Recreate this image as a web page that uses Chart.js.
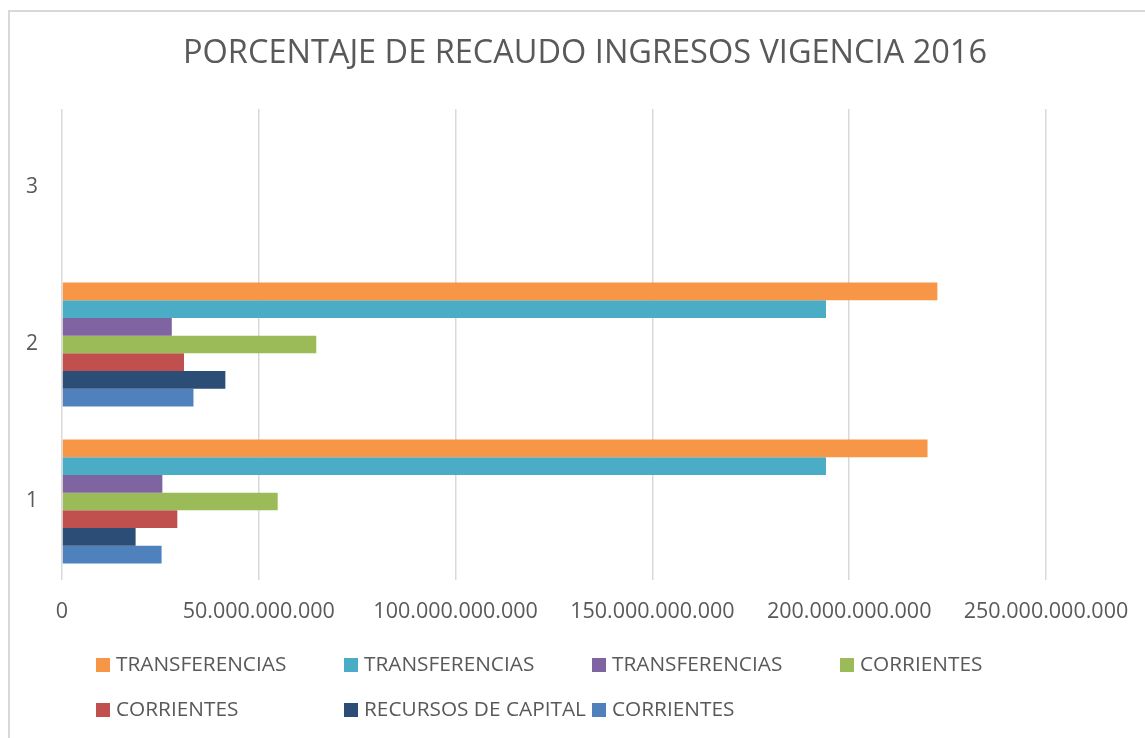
<!DOCTYPE html>
<html>
<head>
<meta charset="utf-8">
<script src="https://cdn.jsdelivr.net/npm/chart.js@4"></script>
<style>
  html, body { margin: 0; padding: 0; background: #ffffff; overflow: hidden; }
  #frame { position: absolute; left: 8px; top: 10px; width: 2000px; height: 2000px; border: 2px solid #d9d9d9; box-sizing: border-box; }
  #wrap { position: absolute; left: 0; top: 0; width: 1145px; height: 738px; }
</style>
</head>
<body>
<div id="frame"></div>
<div id="wrap"><canvas id="c" width="1145" height="738"></canvas></div>
<script>
// Categories (top to bottom as shown)
const categories = ['3', '2', '1'];

// Series (legend order), values for categories 3, 2, 1
const seriesNames = ['TRANSFERENCIAS', 'TRANSFERENCIAS', 'TRANSFERENCIAS', 'CORRIENTES', 'CORRIENTES', 'RECURSOS DE CAPITAL', 'CORRIENTES'];
const transferencias1 = [null, 222.4e9, 219.9e9];
const transferencias2 = [null, 194.1e9, 194.1e9];
const transferencias3 = [null, 27.9e9, 25.5e9];
const corrientes1     = [null, 64.6e9, 54.8e9];
const corrientes2     = [null, 31.0e9, 29.3e9];
const recursosCapital = [null, 41.5e9, 18.7e9];
const corrientes3     = [null, 33.4e9, 25.3e9];

const xTickValues = [0, 50e9, 100e9, 150e9, 200e9, 250e9];
const chartTitle = 'PORCENTAJE DE RECAUDO INGRESOS VIGENCIA 2016';

const seriesValues = [transferencias1, transferencias2, transferencias3, corrientes1, corrientes2, recursosCapital, corrientes3];
const seriesColors = ['#F79646', '#4BACC6', '#8064A2', '#9BBB59', '#C0504D', '#2C4D75', '#4F81BD'];

const FONT = "'Open Sans', sans-serif";
const TXT = '#595959';

function fmt(v) {
  return Math.round(v).toString().replace(/\B(?=(\d{3})+(?!\d))/g, '.');
}

const titleAndLegend = {
  id: 'titleAndLegend',
  afterDraw(chart) {
    const ctx = chart.ctx;
    ctx.save();
    // title
    ctx.font = '32.5px ' + FONT;
    ctx.fillStyle = TXT;
    ctx.textAlign = 'center';
    ctx.textBaseline = 'middle';
    ctx.fillText(chartTitle, 585, 54);
    // legend grid
    const startX = 96, colW = 248, rows = [665, 710], perRow = 4, box = 14;
    ctx.font = '20.8px ' + FONT;
    ctx.textAlign = 'left';
    chart.data.datasets.forEach((ds, i) => {
      const col = i % perRow, row = Math.floor(i / perRow);
      const x = startX + col * colW, y = rows[row];
      ctx.fillStyle = ds.backgroundColor;
      ctx.fillRect(x, y - box / 2, box, box);
      ctx.fillStyle = TXT;
      ctx.fillText(ds.label, x + 20, y);
    });
    ctx.restore();
  }
};

new Chart(document.getElementById('c'), {
  type: 'bar',
  data: {
    labels: categories,
    datasets: seriesNames.map((n, i) => ({
      label: n,
      data: seriesValues[i],
      backgroundColor: seriesColors[i],
      borderWidth: 0,
      categoryPercentage: 0.79,
      barPercentage: 1.0
    }))
  },
  options: {
    indexAxis: 'y',
    responsive: false,
    animation: false,
    layout: { padding: { left: 0, right: 99, top: 109, bottom: 100 } },
    plugins: {
      legend: { display: false },
      tooltip: { enabled: false },
      title: { display: false }
    },
    scales: {
      x: {
        min: 0,
        max: 250e9,
        afterBuildTicks(scale) { scale.ticks = xTickValues.map(v => ({ value: v })); },
        afterFit(scale) { scale.height = 58; scale.paddingRight = 0; scale.paddingLeft = 0; },
        grid: { color: '#d9d9d9', lineWidth: 1.5, drawTicks: false },
        border: { display: false },
        ticks: {
          color: TXT,
          font: { family: FONT, size: 21.5 },
          padding: 19,
          maxRotation: 0,
          callback: (v) => fmt(v)
        }
      },
      y: {
        afterFit(scale) { scale.width = 62; },
        grid: { display: false, drawTicks: false },
        border: { display: false },
        ticks: { color: TXT, font: { family: FONT, size: 21 }, padding: 24 }
      }
    }
  },
  plugins: [titleAndLegend]
});
</script>
</body>
</html>
